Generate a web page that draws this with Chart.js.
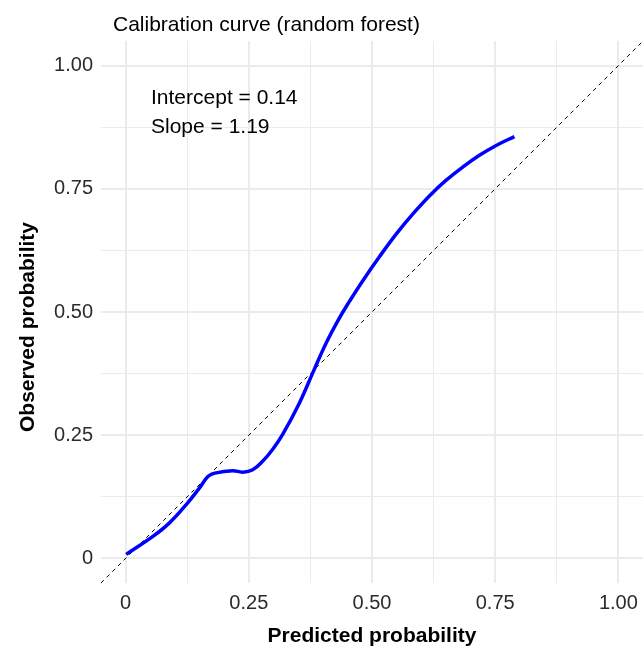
<!DOCTYPE html>
<html>
<head>
<meta charset="utf-8">
<script src="https://cdn.jsdelivr.net/npm/chart.js@4/dist/chart.umd.min.js"></script>
<style>
  html, body { margin: 0; padding: 0; background: #fff; }
  #wrap { width: 643px; height: 647px; }
</style>
</head>
<body>
<div id="wrap"><canvas id="calChart" width="643" height="647"></canvas></div>
<script>
// calibration curve
const predX = [0.001, 0.056, 0.089, 0.123, 0.150, 0.167, 0.181, 0.217, 0.238, 0.258, 0.278, 0.299,
  0.319, 0.353, 0.380, 0.407, 0.434, 0.454, 0.481, 0.515, 0.549, 0.583, 0.617, 0.650, 0.684, 0.718, 0.752, 0.789];
const obsY = [0.008, 0.045, 0.072, 0.109, 0.143, 0.166, 0.173, 0.178, 0.175, 0.180, 0.197, 0.222,
  0.252, 0.316, 0.377, 0.437, 0.488, 0.521, 0.563, 0.612, 0.658, 0.699, 0.736, 0.767, 0.794, 0.818, 0.838, 0.856];
const diagX = [-0.05, 1.05];
const tickVals = [0, 0.125, 0.25, 0.375, 0.5, 0.625, 0.75, 0.875, 1];
const tickLabels = { 0: '0', 0.25: '0.25', 0.5: '0.50', 0.75: '0.75', 1: '1.00' };
const statLines = ['Intercept = 0.14', 'Slope = 1.19'];

const curvePts = predX.map((x, i) => ({ x: x, y: obsY[i] }));
const diagPts = diagX.map(v => ({ x: v, y: v }));
const fontFam = '"Liberation Sans", Arial, sans-serif';

function isMajor(v) {
  return tickLabels[v] !== undefined;
}

const textPlugin = {
  id: 'texts',
  afterDraw(chart) {
    const ctx = chart.ctx;
    const xs = chart.scales.x;
    ctx.save();
    ctx.fillStyle = '#000';
    ctx.textBaseline = 'alphabetic';
    ctx.textAlign = 'left';
    ctx.font = '21px ' + fontFam;
    ctx.fillText('Calibration curve (random forest)', 113, 31);
    // annotation
    ctx.fillText(statLines[0], 151, 104);
    ctx.fillText(statLines[1], 151, 133);
    // axis titles
    ctx.font = 'bold 21px ' + fontFam;
    ctx.textAlign = 'center';
    ctx.fillText('Predicted probability', xs.getPixelForValue(0.5), 642);
    ctx.translate(34, 327);
    ctx.rotate(-Math.PI / 2);
    ctx.fillText('Observed probability', 0, 0);
    ctx.restore();
  }
};

const ctx = document.getElementById('calChart').getContext('2d');
const calChart = new Chart(ctx, {
  type: 'scatter',
  data: {
    datasets: [{
      label: 'Calibration',
      data: curvePts,
      showLine: true,
      borderColor: '#0000ff',
      borderWidth: 3.5,
      pointRadius: 0,
      tension: 0.4,
      order: 1
    }, {
      label: 'Ideal',
      data: diagPts,
      showLine: true,
      borderColor: '#000',
      borderWidth: 1,
      borderDash: [4, 4],
      pointRadius: 0,
      order: 2
    }]
  },
  options: {
    responsive: false,
    animation: false,
    layout: { padding: { top: 41, right: 0, bottom: 0, left: 0 } },
    plugins: { legend: { display: false }, tooltip: { enabled: false } },
    scales: {
      x: {
        type: 'linear',
        min: -0.05,
        max: 1.05,
        afterBuildTicks(scale) { scale.ticks = tickVals.map(v => ({ value: v })); },
        afterFit(scale) { scale.height = 64; scale.paddingLeft = 0; scale.paddingRight = 0; },
        border: { display: false },
        grid: {
          drawTicks: false,
          color: '#ebebeb',
          lineWidth: c => (c.tick && isMajor(c.tick.value)) ? 2 : 1
        },
        ticks: {
          padding: 8,
          autoSkip: false,
          maxRotation: 0,
          color: '#2b2b2b',
          font: { size: 20, family: fontFam },
          callback: v => tickLabels[v] !== undefined ? tickLabels[v] : ''
        }
      },
      y: {
        type: 'linear',
        min: -0.05,
        max: 1.05,
        afterBuildTicks(scale) { scale.ticks = tickVals.map(v => ({ value: v })); },
        afterFit(scale) { scale.width = 101; scale.paddingTop = 0; scale.paddingBottom = 0; },
        border: { display: false },
        grid: {
          drawTicks: false,
          color: '#ebebeb',
          lineWidth: c => (c.tick && isMajor(c.tick.value)) ? 2 : 1
        },
        ticks: {
          padding: 8,
          autoSkip: false,
          color: '#2b2b2b',
          font: { size: 20, family: fontFam },
          callback: v => tickLabels[v] !== undefined ? tickLabels[v] : ''
        }
      }
    }
  },
  plugins: [textPlugin]
});
</script>
</body>
</html>
